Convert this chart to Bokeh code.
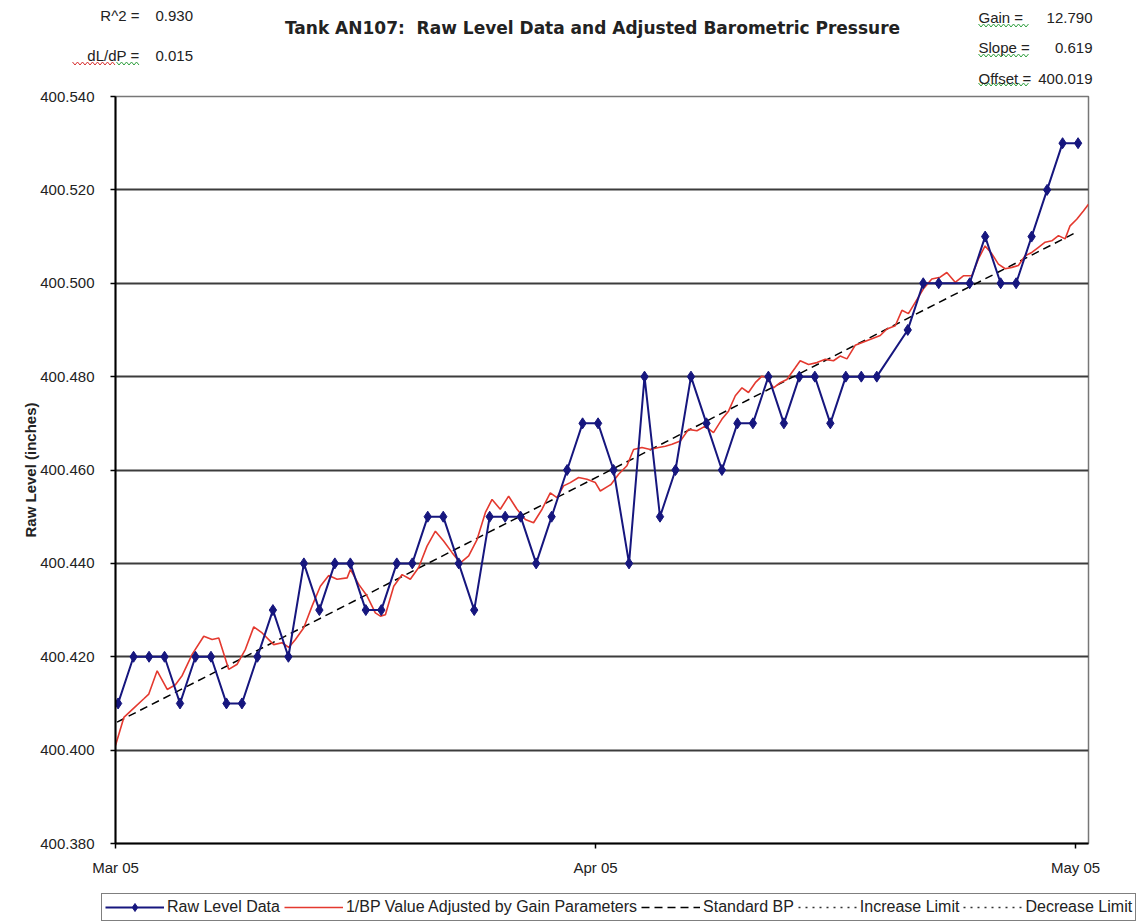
import math
import pandas as pd
from bokeh.plotting import figure
from bokeh.layouts import column
from bokeh.models import (Range1d, FixedTicker, DatetimeTickFormatter, PrintfTickFormatter,
                          Label, Legend, LegendItem)
from bokeh.embed import file_html
from bokeh.resources import INLINE

# ---- data -------------------------------------------------------------
START = "2005-03-01"

# daily raw level readings (inches), taken early each morning
raw_dates = ["03-01", "03-02", "03-03", "03-04", "03-05", "03-06", "03-07", "03-08",
             "03-09", "03-10", "03-11", "03-12", "03-13", "03-14", "03-15", "03-16",
             "03-17", "03-18", "03-19", "03-20", "03-21", "03-22", "03-23", "03-24",
             "03-25", "03-26", "03-27", "03-28", "03-29", "03-30", "03-31",
             "04-01", "04-02", "04-03", "04-04", "04-05", "04-06", "04-07", "04-08",
             "04-09", "04-10", "04-11", "04-12", "04-13", "04-14", "04-15", "04-16",
             "04-17", "04-18", "04-19", "04-21", "04-22", "04-23", "04-25", "04-26",
             "04-27", "04-28", "04-29", "04-30", "05-01", "05-02"]
raw_level = [400.41, 400.42, 400.42, 400.42, 400.41, 400.42, 400.42, 400.41,
             400.41, 400.42, 400.43, 400.42, 400.44, 400.43, 400.44, 400.44,
             400.43, 400.43, 400.44, 400.44, 400.45, 400.45, 400.44, 400.43,
             400.45, 400.45, 400.45, 400.44, 400.45, 400.46, 400.47,
             400.47, 400.46, 400.44, 400.48, 400.45, 400.46, 400.48, 400.47,
             400.46, 400.47, 400.47, 400.48, 400.47, 400.48, 400.48, 400.47,
             400.48, 400.48, 400.48, 400.49, 400.50, 400.50, 400.50, 400.51,
             400.50, 400.50, 400.51, 400.52, 400.53, 400.53]

# 1/BP adjusted by gain parameters (days since Mar 1 00:00, inches)
bp_days = [0.00, 0.54, 1.18, 1.83, 2.15, 2.69, 3.34, 3.87, 4.31, 4.95, 5.70, 6.24,
           6.67, 7.31, 7.86, 8.39, 8.93, 9.47, 10.22, 10.76, 11.19, 11.62, 12.16,
           12.70, 13.23, 13.77, 14.31, 14.96, 15.17, 15.71, 16.25, 16.78, 17.11,
           17.43, 17.97, 18.51, 19.04, 19.58, 20.12, 20.66, 21.19, 21.74, 22.27,
           22.81, 23.35, 23.89, 24.32, 24.85, 25.39, 25.93, 26.47, 27.00, 27.55,
           28.08, 28.51, 28.94, 29.37, 29.91, 30.45, 30.99, 31.31, 31.85, 32.00,
           32.49, 33.03, 33.46, 34.00, 34.54, 35.07, 35.51, 35.94, 36.48, 37.01,
           37.55, 38.09, 38.62, 39.17, 39.59, 40.03, 40.46, 40.88, 41.32, 41.75,
           42.07, 42.50, 42.93, 43.36, 43.90, 44.22, 44.76, 45.30, 45.84, 46.37,
           46.80, 47.24, 47.77, 48.31, 48.85, 49.39, 49.82, 50.36, 50.79, 51.21,
           51.65, 52.18, 52.72, 53.26, 53.69, 54.23, 54.76, 55.31, 55.73, 56.16,
           56.60, 57.02, 57.46, 57.89, 58.31, 58.75, 59.18, 59.61, 60.04, 60.47,
           60.90, 61.33, 61.65, 62.08, 62.51, 62.84]
bp_level = [400.4010, 400.4070, 400.4090, 400.4110, 400.4120, 400.4170, 400.4130,
            400.4140, 400.4160, 400.4205, 400.4244, 400.4237, 400.4240, 400.4173,
            400.4184, 400.4216, 400.4264, 400.4251, 400.4226, 400.4230, 400.4220,
            400.4237, 400.4262, 400.4309, 400.4351, 400.4374, 400.4366, 400.4369,
            400.4387, 400.4355, 400.4330, 400.4294, 400.4287, 400.4290, 400.4351,
            400.4376, 400.4366, 400.4391, 400.4437, 400.4469, 400.4448, 400.4423,
            400.4401, 400.4416, 400.4451, 400.4509, 400.4537, 400.4516, 400.4544,
            400.4516, 400.4494, 400.4487, 400.4516, 400.4551, 400.4541, 400.4566,
            400.4573, 400.4584, 400.4580, 400.4573, 400.4555, 400.4566, 400.4569,
            400.4591, 400.4609, 400.4644, 400.4648, 400.4644, 400.4648, 400.4651,
            400.4655, 400.4662, 400.4687, 400.4684, 400.4694, 400.4680, 400.4709,
            400.4726, 400.4759, 400.4776, 400.4766, 400.4787, 400.4801, 400.4798,
            400.4776, 400.4787, 400.4794, 400.4819, 400.4834, 400.4826, 400.4830,
            400.4837, 400.4834, 400.4844, 400.4838, 400.4867, 400.4874, 400.4881,
            400.4888, 400.4902, 400.4909, 400.4942, 400.4935, 400.4959, 400.4988,
            400.5009, 400.5013, 400.5023, 400.5002, 400.5016, 400.5016, 400.5052,
            400.5080, 400.5063, 400.5041, 400.5031, 400.5034, 400.5038, 400.5059,
            400.5066, 400.5077, 400.5088, 400.5091, 400.5102, 400.5095, 400.5123,
            400.5137, 400.5155, 400.5169]

# standard BP trend (end points)
std_days = [0.1, 62.1]
std_level = [400.406, 400.511]

# fit statistics shown in the header
stats_left = [("R^2 =", "0.930"), ("dL/dP =", "0.015")]
stats_right = [("Gain =", "12.790"), ("Slope =", "0.619"), ("Offset =", "400.019")]

y_ticks = [400.38, 400.40, 400.42, 400.44, 400.46, 400.48, 400.50, 400.52, 400.54]
x_tick_dates = ["2005-03-01", "2005-04-01", "2005-05-02"]

TITLE = "Tank AN107:\u00a0 Raw Level Data and Adjusted Barometric Pressure"

# ---- styling constants ------------------------------------------------
FONT = "Liberation Sans"
TXT = "#222222"
W = 1140
HEAD_H, MAIN_H, FOOT_H = 86, 794, 42
L, R, T, B = 115, 52, 10, 37

BLUE = "#16167e"
RED = "#e4392f"
DOT = "#333333"


def blank_canvas(h):
    """A figure whose frame is the whole canvas, with pixel data units (y down)."""
    f = figure(width=W, height=h, output_backend="svg", toolbar_location=None,
               x_range=Range1d(0, W), y_range=Range1d(h, 0),
               x_axis_location=None, y_axis_location=None,
               min_border=0, title=None, frame_align=False)
    f.grid.visible = False
    f.outline_line_color = None
    f.background_fill_color = "white"
    f.border_fill_color = "white"
    return f


# ---- header: title and fit statistics ---------------------------------
head = blank_canvas(HEAD_H)


def head_text(x, y, text, align="left", size="15px", bold=False, font=FONT):
    head.add_layout(Label(x=x, y=y, text=text, text_align=align, text_baseline="middle",
                          text_font=font, text_font_size=size, text_color=TXT,
                          text_font_style="bold" if bold else "normal"))


def squiggle(x0, x1, y, color):
    """Wavy proofing underline."""
    xs, ys, k, x = [], [], 0, x0
    while x <= x1:
        xs.append(x)
        ys.append(y + (1.5 if k % 2 else -1.5))
        x += 2.5
        k += 1
    head.line(xs, ys, line_color=color, line_width=1)


head_text(592, 27, TITLE, align="center", size="17px", bold=True, font="DejaVu Sans")
for (name, val), cy in zip(stats_left, [15, 55]):
    head_text(139, cy, name, align="right")
    head_text(155, cy, val)
for (name, val), cy in zip(stats_right, [17, 47, 78]):
    head_text(978, cy, name)
    head_text(1092, cy, val, align="right")

squiggle(72, 116, 63, "#d83030")
squiggle(116, 139, 63, "#30a040")
squiggle(978, 1030, 25, "#30a040")
squiggle(978, 1030, 55, "#30a040")
squiggle(978, 1030, 86 - 2, "#30a040")

# ---- main chart -------------------------------------------------------
t0 = pd.Timestamp(START)
raw_x = pd.to_datetime(["2005-" + d + " 04:00" for d in raw_dates])
bp_x = t0 + pd.to_timedelta(bp_days, unit="D")
std_x = t0 + pd.to_timedelta(std_days, unit="D")

p = figure(width=W, height=MAIN_H, x_axis_type="datetime", output_backend="svg",
           toolbar_location=None, title=None, frame_align=False,
           min_border_left=L, min_border_right=R, min_border_top=T, min_border_bottom=B,
           x_range=Range1d(t0, t0 + pd.Timedelta(days=62.84)),
           y_range=Range1d(400.38, 400.54))
p.background_fill_color = "white"
p.border_fill_color = "white"
p.outline_line_color = "#777777"
p.outline_line_width = 1.5

p.xgrid.visible = False
p.ygrid.grid_line_color = "#3c3c3c"
p.ygrid.grid_line_width = 2

p.yaxis.ticker = FixedTicker(ticks=y_ticks)
p.yaxis.formatter = PrintfTickFormatter(format="%.3f")
tick_ms = [pd.Timestamp(d).value / 1e6 for d in x_tick_dates]
p.xaxis.ticker = FixedTicker(ticks=tick_ms)
fmt = "%b %y"
p.xaxis.formatter = DatetimeTickFormatter(days=fmt, months=fmt, hours=fmt, years=fmt,
                                          milliseconds=fmt, seconds=fmt, minutes=fmt,
                                          minsec=fmt, hourmin=fmt)
for ax in (p.xaxis, p.yaxis):
    ax.axis_line_color = "black"
    ax.axis_line_width = 2
    ax.major_tick_line_color = "black"
    ax.major_tick_line_width = 1.5
    ax.major_tick_out = 5
    ax.major_tick_in = 0
    ax.minor_tick_line_color = None
    ax.major_label_text_font = FONT
    ax.major_label_text_font_size = "15px"
    ax.major_label_text_color = TXT
p.yaxis.major_label_standoff = 16
p.xaxis.major_label_standoff = 10
p.yaxis.axis_label = "Raw Level (inches)"
p.yaxis.axis_label_text_font = FONT
p.yaxis.axis_label_text_font_size = "15px"
p.yaxis.axis_label_text_font_style = "bold"
p.yaxis.axis_label_text_color = TXT
p.yaxis.axis_label_standoff = -2

p.line(std_x, std_level, line_color="black", line_width=1.5, line_dash="8 5")
p.line(bp_x, bp_level, line_color=RED, line_width=1.6)
p.line(raw_x, raw_level, line_color=BLUE, line_width=2)
p.scatter(raw_x, raw_level, marker="diamond", size=11, fill_color=BLUE, line_color=BLUE)

# ---- footer: legend ---------------------------------------------------
foot = blank_canvas(FOOT_H)
# key renderers live off-canvas; only their legend swatches are seen
off = dict(x=[-50, -40], y=[-50, -50])
k_raw = foot.line(**off, line_color=BLUE, line_width=2)
k_raw_pt = foot.scatter(**off, marker="diamond", size=9, fill_color=BLUE, line_color=BLUE)
k_bp = foot.line(**off, line_color=RED, line_width=1.6)
k_std = foot.line(**off, line_color="black", line_width=1.5, line_dash="8 5")
k_inc = foot.line(**off, line_color=DOT, line_width=1.5, line_dash="2 5")
k_dec = foot.line(**off, line_color=DOT, line_width=1.5, line_dash="2 5")

legend = Legend(items=[
    LegendItem(label="Raw Level Data", renderers=[k_raw, k_raw_pt]),
    LegendItem(label="1/BP Value Adjusted by Gain Parameters", renderers=[k_bp]),
    LegendItem(label="Standard BP", renderers=[k_std]),
    LegendItem(label="Increase Limit", renderers=[k_inc]),
    LegendItem(label="Decrease Limit", renderers=[k_dec]),
], orientation="horizontal", location=(101, 1))
legend.label_text_font = FONT
legend.label_text_font_size = "16px"
legend.label_text_color = TXT
legend.glyph_width = 59
legend.glyph_height = 20
legend.label_height = 20
legend.label_standoff = 3
legend.spacing = 4
legend.padding = 3
legend.margin = 0
legend.border_line_color = "black"
legend.border_line_width = 1.2
legend.background_fill_color = "white"
legend.background_fill_alpha = 1
foot.add_layout(legend)

page = column(head, p, foot, spacing=0)
open("out.html", "w").write(file_html(page, INLINE))
